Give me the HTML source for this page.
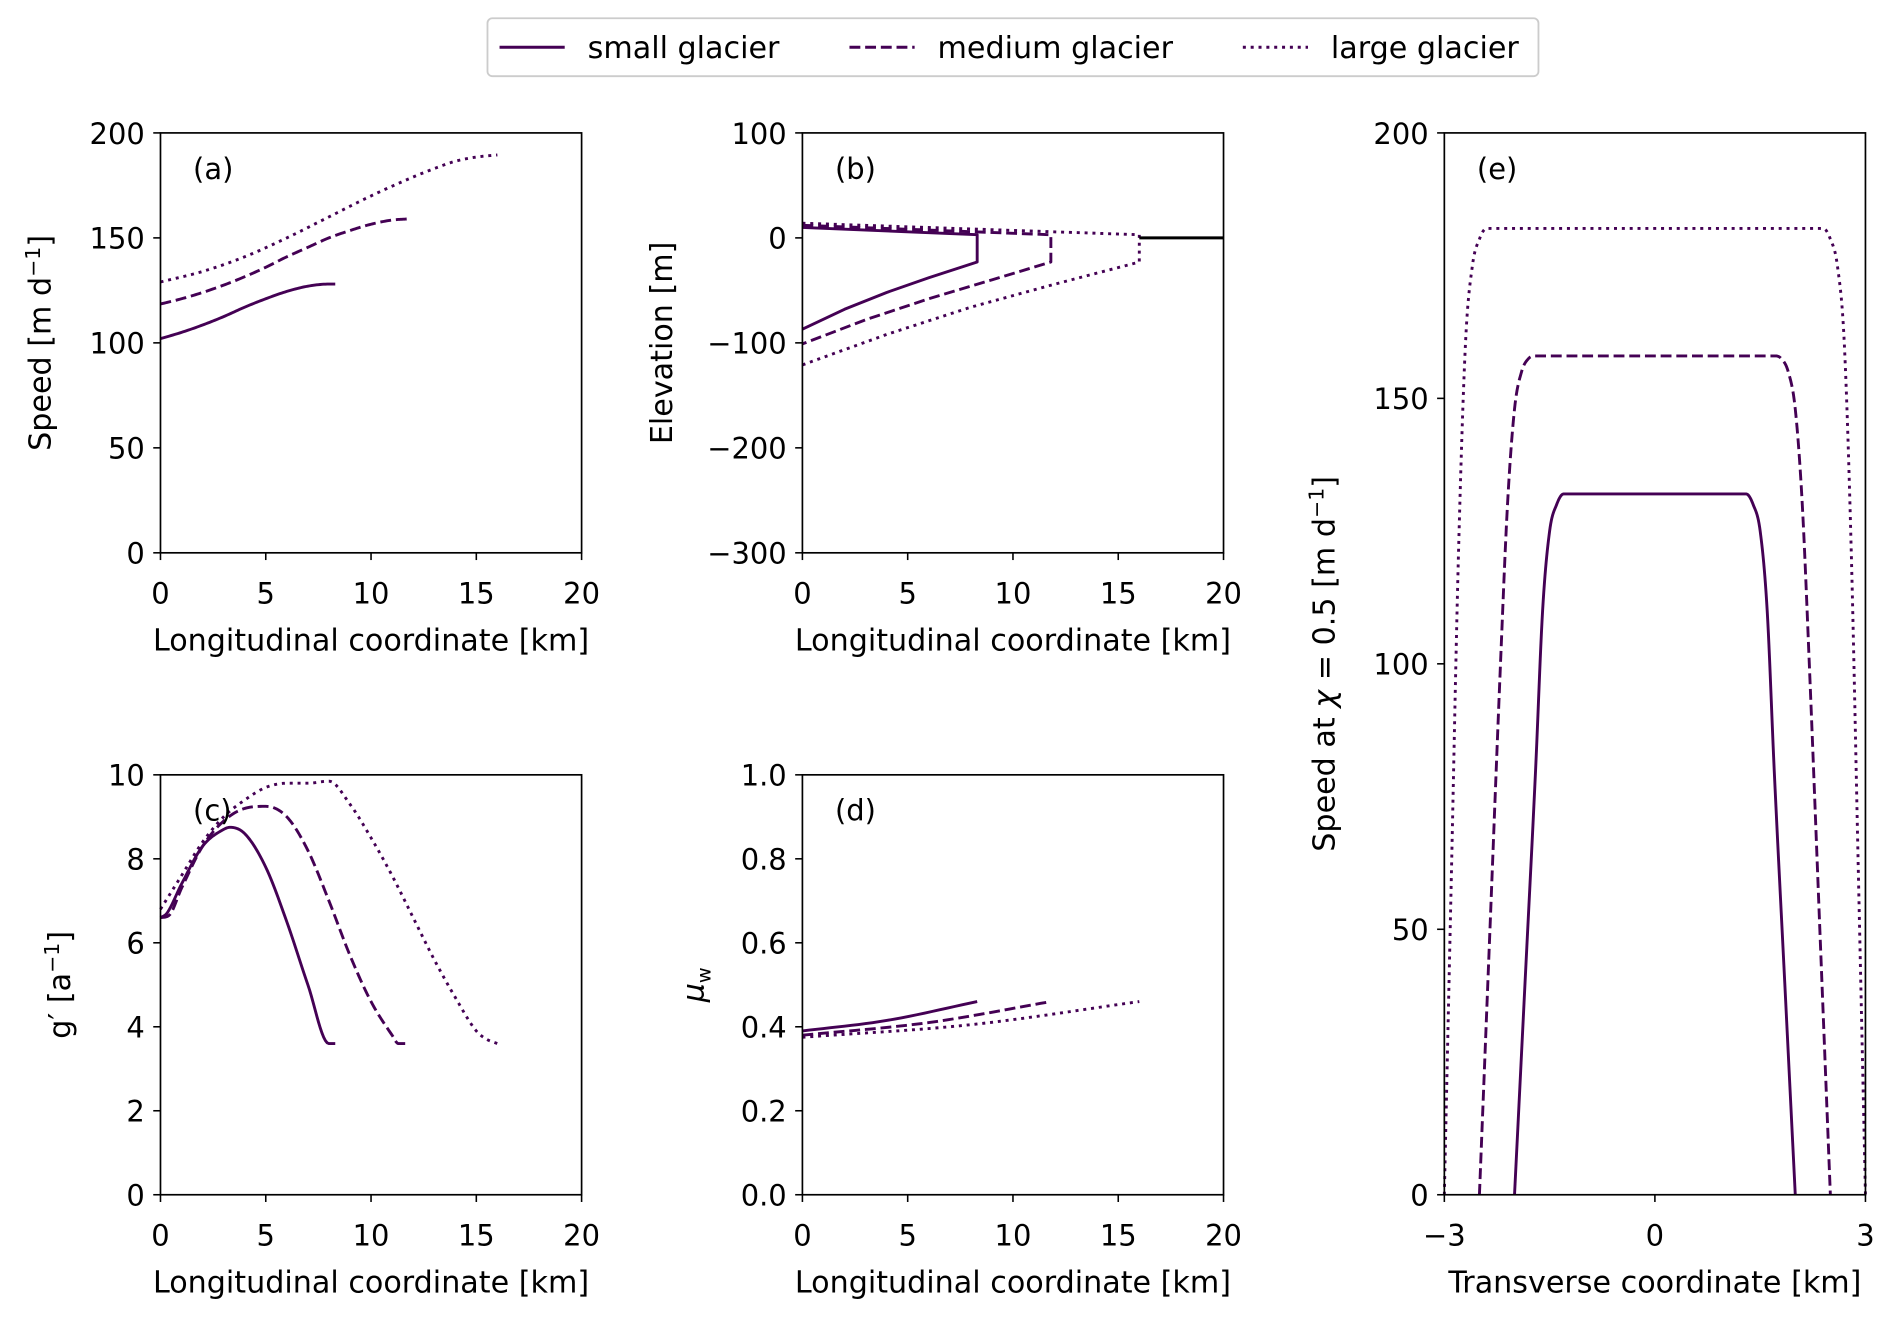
<!DOCTYPE html>
<html><head><meta charset="utf-8"><style>
html,body{margin:0;padding:0;background:#fff}
svg{display:block}
text{font-family:"DejaVu Sans","Liberation Sans",sans-serif;fill:#000}
</style></head><body>
<svg id="fig" width="1892" height="1318" viewBox="0 0 1568 1092" xmlns="http://www.w3.org/2000/svg">
<g>
<rect x="404" y="15" width="871" height="48" rx="4" fill="#fff" stroke="#ccc" stroke-width="1.5"/>
<g><line x1="414" y1="39" x2="468" y2="39" stroke="#440154" stroke-width="2.5"/><text x="487" y="48" font-size="25">small glacier</text></g>
<g><line x1="704" y1="39" x2="758" y2="39" stroke="#440154" stroke-width="2.5" stroke-dasharray="9,4"/><text x="777" y="48" font-size="25">medium glacier</text></g>
<g><line x1="1030" y1="39" x2="1084" y2="39" stroke="#440154" stroke-width="2.5" stroke-dasharray="2.5,4"/><text x="1103" y="48" font-size="25">large glacier</text></g>
</g>
</svg>
<script>
// ---- data ----
const aSmallX=[0,1,2,3,4,5,6,7,8,8.3];
const aSmallY=[102,105,108.5,112.5,117,121,124.5,127,128,128];
const aMedX=[0,1,2,3,4,5,6,7,8,9,10,11,11.7];
const aMedY=[118.5,121,124,127.5,131.5,136,141,145.5,150,153.5,156.5,158.5,159];
const aLargeX=[0,2,4,6,8,10,12,13,14,15,16];
const aLargeY=[129,134,141,150,160,170,179,183,186.5,188.5,189.5];

const bSmallX=[0,8.3,8.3,6,4,2,0];
const bSmallY=[10,3,-23,-38,-52,-68,-87];
const bMedX=[0,11.8,11.8,9,6,3,0];
const bMedY=[12,3,-23,-40,-58,-78,-101];
const bLargeX=[0,16,16,12,8,4,0];
const bLargeY=[14,3,-23,-44,-66,-92,-121];
const bSeaX=[16,20];
const bSeaY=[0,0];

const cSmallX=[0,0.3,1,2,3,3.3,4,5,6,7,8,8.3];
const cSmallY=[6.6,6.7,7.4,8.3,8.7,8.75,8.6,7.8,6.5,5.0,3.6,3.6];
const cMedX=[0,0.4,1,2,3,4,5,6,7,8,9,10,11,11.3,11.7];
const cMedY=[6.6,6.65,7.3,8.3,8.9,9.2,9.25,9.0,8.2,7.0,5.7,4.6,3.8,3.6,3.6];
const cLargeX=[0,1,2,3,4,5,6,7,8,9,10,11,12,13,14,15,15.5,16];
const cLargeY=[6.8,7.6,8.4,9.0,9.4,9.7,9.8,9.8,9.85,9.3,8.5,7.6,6.6,5.6,4.7,3.9,3.7,3.6];

const dSmallX=[0,4,8.3];
const dSmallY=[0.39,0.415,0.46];
const dMedX=[0,6,11.8];
const dMedY=[0.38,0.41,0.46];
const dLargeX=[0,8,16];
const dLargeY=[0.375,0.405,0.46];

const eSmallX=[-2.0,-1.85,-1.7,-1.6,-1.5,-1.4,-1.3,1.3,1.4,1.5,1.6,1.7,1.85,2.0];
const eSmallY=[0,40,80,110,125,130,132,132,130,125,110,80,40,0];
const eMedX=[-2.5,-2.35,-2.2,-2.1,-2.0,-1.9,-1.8,-1.7,1.7,1.8,1.9,2.0,2.1,2.2,2.35,2.5];
const eMedY=[0,50,100,130,148,155,157.5,158,158,157.5,155,148,130,100,50,0];
const eLargeX=[-3,-2.9,-2.8,-2.7,-2.6,-2.5,-2.4,2.4,2.5,2.6,2.7,2.8,2.9,3];
const eLargeY=[0,60,120,160,175,180,182,182,180,175,160,120,60,0];

const longTicks=[0,5,10,15,20];
const aTicks=[0,50,100,150,200];
const bTicks=[-300,-200,-100,0,100];
const cTicks=[0,2,4,6,8,10];
const dTicks=[0,0.2,0.4,0.6,0.8,1.0];
const dTickLabels=["0.0","0.2","0.4","0.6","0.8","1.0"];
const eXTicks=[-3,0,3];
const eXTickLabels=["\u22123","0","3"];
const eYTicks=[0,50,100,150,200];

// ---- drawing ----
const NS="http://www.w3.org/2000/svg";
const svg=document.getElementById('fig');
const COL="#440154";
const STY={solid:null,dash:"9,4",dot:"2.5,4"};
function mk(tag,attrs,parent){const e=document.createElementNS(NS,tag);for(const k in attrs)e.setAttribute(k,attrs[k]);(parent||svg).appendChild(e);return e;}
function fmt(v){return String(v).replace('-','\u2212');}

function panel(name,box,xd,yd,xt,xl,yt,yl,xlabel,ylabel,tag){
  const g=mk('g',{});
  
  
  const sx=v=>box.x+(v-xd[0])/(xd[1]-xd[0])*box.w;
  const sy=v=>box.y+box.h-(v-yd[0])/(yd[1]-yd[0])*box.h;
  const clip=mk('clipPath',{id:name+'-clip'},g);
  mk('rect',{x:box.x-3,y:box.y-3,width:box.w+6,height:box.h+6},clip);
  const plot=mk('g',{'clip-path':'url(#'+name+'-clip)'},g);
  
  
  const fr=mk('rect',{x:box.x,y:box.y,width:box.w,height:box.h,fill:'none',stroke:'#000','stroke-width':1.4},g);
  
  
  xt.forEach((t,i)=>{
    const X=sx(t);
    mk('line',{x1:X,y1:box.y+box.h,x2:X,y2:box.y+box.h+6,stroke:'#000','stroke-width':1.3},g);
    const tx=mk('text',{x:X,y:box.y+box.h+42,'font-size':24,'text-anchor':'middle'},g);
    tx.textContent=xl?xl[i]:fmt(t);
    
    
  });
  yt.forEach((t,i)=>{
    const Y=sy(t);
    mk('line',{x1:box.x-6,y1:Y,x2:box.x,y2:Y,stroke:'#000','stroke-width':1.3},g);
    const tx=mk('text',{x:box.x-13,y:Y+9,'font-size':24,'text-anchor':'end'},g);
    tx.textContent=yl?yl[i]:fmt(t);
    
    
  });
  const xlab=mk('text',{x:box.x+box.w/2,y:box.y+box.h+81,'font-size':25,'text-anchor':'middle'},g);
  xlab.textContent=xlabel;
  
  
  const lx=box.x-ylabel.lx;
  const ylab=mk('text',{x:lx,y:box.y+box.h/2,'font-size':25,'text-anchor':'middle',transform:`rotate(-90 ${lx} ${box.y+box.h/2})`},g);
  ylab.innerHTML=ylabel.html;
  
  
  const tg=mk('text',{x:box.x+27,y:box.y+38,'font-size':24},g);
  tg.textContent=tag;
  
  
  return {plot,sx,sy};
}
// monotone cubic (Fritsch-Carlson) in data space, sampled
function monotone(xs,ys){
  const n=xs.length,d=[],m=new Array(n);
  for(let i=0;i<n-1;i++)d.push((ys[i+1]-ys[i])/(xs[i+1]-xs[i]));
  m[0]=d[0];m[n-1]=d[n-2];
  for(let i=1;i<n-1;i++){m[i]=(d[i-1]*d[i]<=0)?0:(d[i-1]+d[i])/2;}
  for(let i=0;i<n-1;i++){
    if(d[i]===0){m[i]=0;m[i+1]=0;continue;}
    const a=m[i]/d[i],b=m[i+1]/d[i],s=a*a+b*b;
    if(s>9){const t=3/Math.sqrt(s);m[i]=t*a*d[i];m[i+1]=t*b*d[i];}
  }
  const out=[];
  for(let i=0;i<n-1;i++){
    const h=xs[i+1]-xs[i];
    for(let k=0;k<12;k++){
      const t=k/12,h00=2*t*t*t-3*t*t+1,h10=t*t*t-2*t*t+t,h01=-2*t*t*t+3*t*t,h11=t*t*t-t*t;
      out.push([xs[i]+t*h,h00*ys[i]+h10*h*m[i]+h01*ys[i+1]+h11*h*m[i+1]]);
    }
  }
  out.push([xs[n-1],ys[n-1]]);
  return out;
}
function series(p,xs,ys,style,smooth,name){
  const dp=smooth?monotone(xs,ys):xs.map((x,i)=>[x,ys[i]]);
  const d='M'+dp.map(q=>p.sx(q[0]).toFixed(2)+','+p.sy(q[1]).toFixed(2)).join('L');
  const a={d,fill:'none',stroke:COL,'stroke-width':2.4,'stroke-linejoin':'round'};
  if(STY[style])a['stroke-dasharray']=STY[style];
  const el=mk('path',a,p.plot);
  
  
  return el;
}
const LX='Longitudinal coordinate [km]';
const SUP='<tspan dy="-9" font-size="17">\u22121</tspan><tspan dy="9">]</tspan>';
const pa=panel('panel-a-speed',{x:133,y:110,w:349,h:348},[0,20],[0,200],longTicks,null,aTicks,null,LX,{html:'Speed [m d'+SUP,lx:91},'(a)');
series(pa,aSmallX,aSmallY,'solid',true,'series-small-speed');
series(pa,aMedX,aMedY,'dash',true,'series-medium-speed');
series(pa,aLargeX,aLargeY,'dot',true,'series-large-speed');

const pb=panel('panel-b-elevation',{x:665,y:110,w:349,h:348},[0,20],[-300,100],longTicks,null,bTicks,null,LX,{html:'Elevation [m]',lx:108},'(b)');
series(pb,bSmallX,bSmallY,'solid',false,'series-small-geometry');
series(pb,bMedX,bMedY,'dash',false,'series-medium-geometry');
series(pb,bLargeX,bLargeY,'dot',false,'series-large-geometry');
const sea=series(pb,bSeaX,bSeaY,'solid',false,'sea-level-line');sea.setAttribute('stroke','#000');

const pc=panel('panel-c-gprime',{x:133,y:642,w:349,h:348},[0,20],[0,10],longTicks,null,cTicks,null,LX,{html:'g\u2032 [a'+SUP,lx:75},'(c)');
series(pc,cSmallX,cSmallY,'solid',true,'series-small-gprime');
series(pc,cMedX,cMedY,'dash',true,'series-medium-gprime');
series(pc,cLargeX,cLargeY,'dot',true,'series-large-gprime');

const pd=panel('panel-d-muw',{x:665,y:642,w:349,h:348},[0,20],[0,1],longTicks,null,dTicks,dTickLabels,LX,{html:'<tspan font-style="italic">\u03bc</tspan><tspan dy="6" font-size="16">w</tspan>',lx:82},'(d)');
series(pd,dSmallX,dSmallY,'solid',true,'series-small-muw');
series(pd,dMedX,dMedY,'dash',true,'series-medium-muw');
series(pd,dLargeX,dLargeY,'dot',true,'series-large-muw');

const pe=panel('panel-e-transverse',{x:1197,y:110,w:349,h:880},[-3,3],[0,200],eXTicks,eXTickLabels,eYTicks,null,'Transverse coordinate [km]',{html:'Speed at <tspan font-style="italic">\u03c7</tspan> = 0.5 [m d'+SUP,lx:91},'(e)');
series(pe,eSmallX,eSmallY,'solid',true,'series-small-transverse');
series(pe,eMedX,eMedY,'dash',true,'series-medium-transverse');
series(pe,eLargeX,eLargeY,'dot',true,'series-large-transverse');
</script>
</body></html>
